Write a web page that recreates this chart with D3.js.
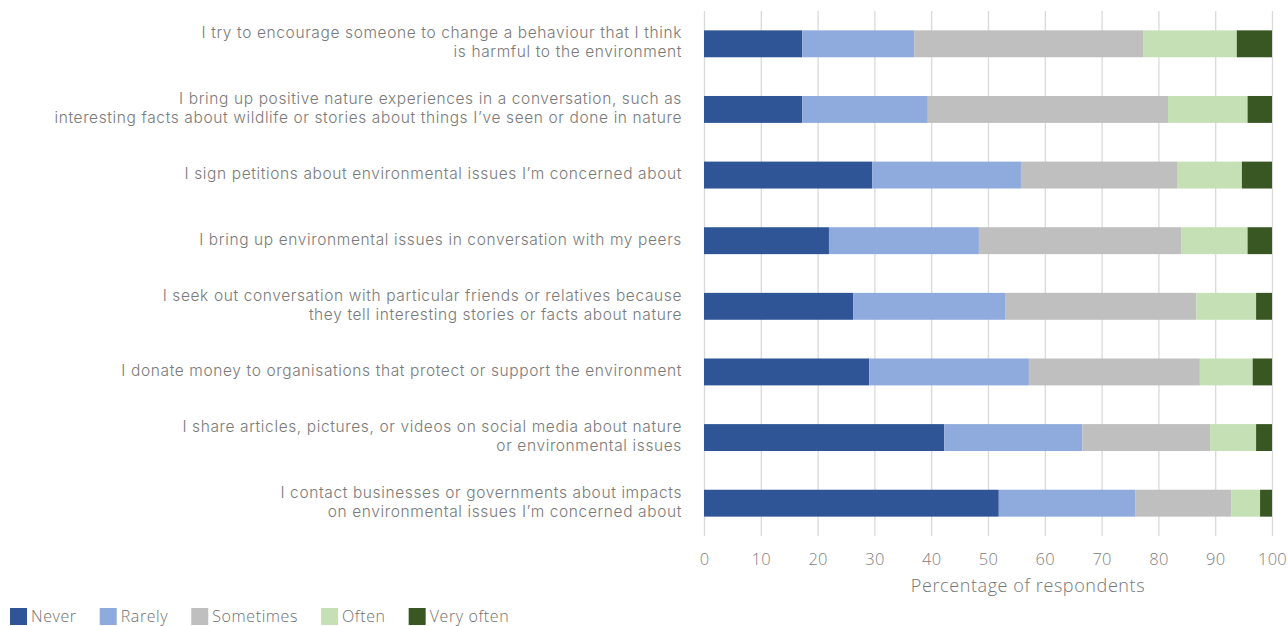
<!DOCTYPE html>
<html lang="en">
	<head>
		<meta charset="utf-8">
		<title>environmental behaviours</title>
		<style>
			body {
				margin: 0;
				background-color: #ffffff;
				font-family: Inter, "Open Sans", sans-serif;
			}

			.grid line {
				stroke: #d9d9d9;
				stroke-width: 1.3px;
			}

			.grid path {
				display: none;
			}

			.axis path,
			.axis line {
				display: none;
			}

			.axis text {
				font-family: "Open Sans", Lato, sans-serif;
				font-size: 16.5px;
				font-weight: 300;
				letter-spacing: 0.3px;
				fill: #808080;
			}

			text.catlabel {
				font-family: Inter, "Open Sans", sans-serif;
				font-size: 15.5px;
				font-weight: 300;
				letter-spacing: 0.62px;
				fill: #7a7a7a;
			}

			text.xTitle {
				font-family: "Open Sans", Lato, sans-serif;
				font-size: 18px;
				font-weight: 300;
				letter-spacing: 0.6px;
				fill: #767676;
			}

			text.legendlabel {
				font-family: "Open Sans", Lato, sans-serif;
				font-size: 16px;
				font-weight: 300;
				letter-spacing: 0.6px;
				fill: #6f6f6f;
			}
		</style>
	</head>
	<body>

		<script type="text/javascript" src="https://cdnjs.cloudflare.com/ajax/libs/d3/7.8.5/d3.min.js"></script>
		<script type="text/javascript">

			// categories, top to bottom (each one split into its printed lines)
			var categories = [
				["I try to encourage someone to change a behaviour that I think", "is harmful to the environment"],
				["I bring up positive nature experiences in a conversation, such as", "interesting facts about wildlife or stories about things I\u2019ve seen or done in nature"],
				["I sign petitions about environmental issues I\u2019m concerned about"],
				["I bring up environmental issues in conversation with my peers"],
				["I seek out conversation with particular friends or relatives because", "they tell interesting stories or facts about nature"],
				["I donate money to organisations that protect or support the environment"],
				["I share articles, pictures, or videos on social media about nature", "or environmental issues"],
				["I contact businesses or governments about impacts", "on environmental issues I\u2019m concerned about"]
			];

			var responses = ["Never", "Rarely", "Sometimes", "Often", "Very often"];

			// percentage of respondents, one value per category
			var never     = [17.3, 17.3, 29.6, 22.0, 26.3, 29.1, 42.3, 51.9];
			var rarely    = [19.7, 22.1, 26.2, 26.4, 26.7, 28.1, 24.3, 24.0];
			var sometimes = [40.4, 42.3, 27.6, 35.6, 33.7, 30.1, 22.5, 16.9];
			var often     = [16.4, 14.0, 11.3, 11.7, 10.5,  9.3,  8.1,  5.1];
			var veryOften = [ 6.2,  4.3,  5.3,  4.3,  2.8,  3.4,  2.8,  2.1];

			var xTicks = [0, 10, 20, 30, 40, 50, 60, 70, 80, 90, 100];

			var colours = ["#2f5597", "#8faadc", "#bfbfbf", "#c5e0b4", "#385723"];

			var fullwidth = 1288;
			var fullheight = 626;
			var margin = { top: 11, right: 16, bottom: 90, left: 704 };

			var width = fullwidth - margin.left - margin.right;
			var height = 536 - margin.top;

			var table = categories.map(function(c, i) {
				return {
					index: i,
					"Never": never[i],
					"Rarely": rarely[i],
					"Sometimes": sometimes[i],
					"Often": often[i],
					"Very often": veryOften[i]
				};
			});

			var xScale = d3.scaleLinear()
								.domain([0, 100])
								.range([0, width]);

			var yScale = d3.scaleBand()
								.domain(d3.range(categories.length))
								.range([0, height])
								.paddingInner(0.59)
								.paddingOuter(0.295);

			var colour = d3.scaleOrdinal()
								.domain(responses)
								.range(colours);

			var svg = d3.select("body")
						.append("svg")
						.attr("width", fullwidth)
						.attr("height", fullheight)
						.append("g")
						.attr("transform", "translate(" + margin.left + "," + margin.top + ")");

			// grid lines
			svg.append("g")
				.attr("class", "grid")
				.call(d3.axisBottom(xScale)
					.tickValues(xTicks)
					.tickSize(height)
					.tickFormat(""));

			var stack = d3.stack().keys(responses);
			var series = stack(table);

			var layers = svg.selectAll("g.layer")
				.data(series)
				.enter()
				.append("g")
				.attr("class", "layer")
				.attr("fill", function(d) { return colour(d.key); });

			layers.selectAll("rect")
				.data(function(d) { return d; })
				.enter()
				.append("rect")
				.attr("x", function(d) { return xScale(d[0]); })
				.attr("width", function(d) { return xScale(d[1]) - xScale(d[0]); })
				.attr("y", function(d) { return yScale(d.data.index); })
				.attr("height", yScale.bandwidth());

			// x axis
			svg.append("g")
				.attr("class", "x axis")
				.attr("transform", "translate(0," + height + ")")
				.call(d3.axisBottom(xScale)
					.tickValues(xTicks)
					.tickSize(0)
					.tickPadding(17));

			svg.append("text")
				.attr("class", "xTitle")
				.attr("x", 324)
				.attr("y", height + 56)
				.style("text-anchor", "middle")
				.text("Percentage of respondents");

			// category labels
			var lineHeight = 19;
			var labels = svg.selectAll("text.catlabel")
				.data(categories)
				.enter()
				.append("text")
				.attr("class", "catlabel")
				.attr("text-anchor", "end")
				.attr("transform", function(d, i) {
					var mid = yScale(i) + yScale.bandwidth() / 2;
					var first = mid - (d.length - 1) * lineHeight / 2 + 4;
					return "translate(-22," + first + ")";
				});

			labels.selectAll("tspan")
				.data(function(d) { return d; })
				.enter()
				.append("tspan")
				.attr("x", 0)
				.attr("dy", function(d, j) { return j === 0 ? 0 : lineHeight; })
				.text(function(d) { return d; });

			// legend
			var legend = d3.select("svg")
				.append("g")
				.attr("transform", "translate(10,608)");

			var lx = 0;
			responses.forEach(function(r) {
				var item = legend.append("g").attr("transform", "translate(" + lx + ",0)");
				item.append("rect")
					.attr("width", 17)
					.attr("height", 17)
					.attr("fill", colour(r));
				var t = item.append("text")
					.attr("class", "legendlabel")
					.attr("x", 21)
					.attr("y", 14)
					.text(r);
				lx += 21 + t.node().getComputedTextLength() + 23;
			});

		</script>

	</body>
</html>
